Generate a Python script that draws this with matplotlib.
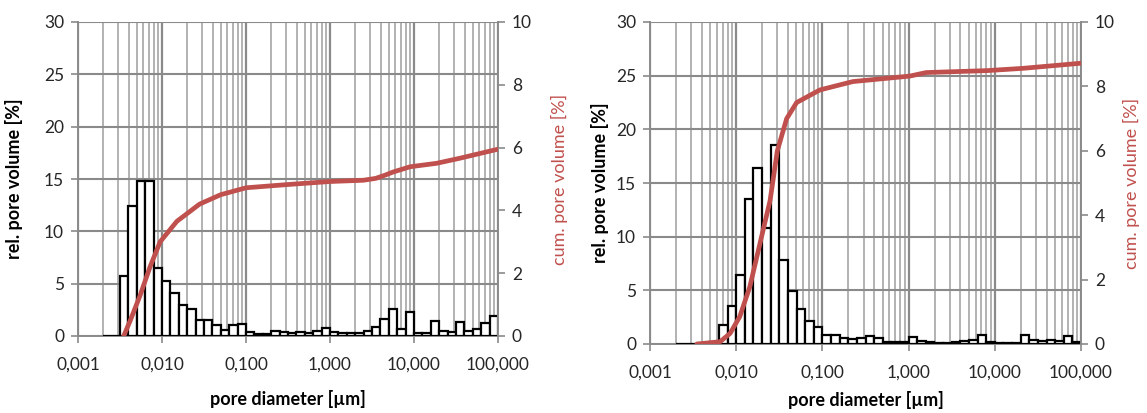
import numpy as np
import matplotlib
matplotlib.use("Agg")
import matplotlib.pyplot as plt
from matplotlib.ticker import FixedLocator, FuncFormatter, NullFormatter, LogLocator

plt.rcParams['font.family'] = ['Lato', 'DejaVu Sans']

# ---------------- data ----------------
# pore-size classes: 10 per decade, from 0.002 to 100 µm
class_edges_um = np.logspace(-2.7, 2.0, 48)

rel_left = [0, 0, 5.7, 12.4, 14.8, 14.8, 6.5, 5.3, 4.1, 3.0, 2.6, 1.5,
            1.5, 1.05, 0.6, 1.05, 1.15, 0.4, 0.2, 0.2, 0.5, 0.4,
            0.25, 0.4, 0.25, 0.45, 0.73, 0.4, 0.25, 0.25, 0.25, 0.5,
            0.9, 1.6, 2.6, 0.64, 2.33, 0.25, 0.32, 1.46, 0.5, 0.4,
            1.3, 0.5, 0.63, 1.27, 1.9]

rel_right = [0, 0, 0, 0, 0.2, 1.77, 3.57, 6.4, 13.5, 16.4, 10.8, 18.5,
             7.8, 4.9, 3.3, 2.1, 1.55, 0.84, 0.84, 0.53, 0.43, 0.53,
             0.78, 0.53, 0.22, 0.22, 0.22, 0.68, 0.3, 0.15, 0.12, 0.12,
             0.2, 0.3, 0.37, 0.84, 0.22, 0.12, 0.12, 0.12, 0.84, 0.37,
             0.3, 0.37, 0.3, 0.78, 0.15]

cum_left_d = [0.0035, 0.0042, 0.0055, 0.0072, 0.0095, 0.015, 0.028, 0.05,
              0.1, 0.3, 1.0, 2.5, 3.5, 4.5, 5.6, 7.0, 9.0, 18.6, 35.0, 100.0]
cum_left_v = [0.0, 0.5, 1.3, 2.2, 3.0, 3.65, 4.2, 4.5,
              4.72, 4.82, 4.92, 4.96, 5.02, 5.12, 5.22, 5.3, 5.39, 5.5, 5.66, 5.95]

cum_right_d = [0.0035, 0.0065, 0.0085, 0.011, 0.0144, 0.0189, 0.0247, 0.030,
               0.0385, 0.0503, 0.0935, 0.226, 1.03, 1.6, 8.1, 21.0, 100.0]
cum_right_v = [0.0, 0.07, 0.33, 0.85, 1.78, 3.13, 4.45, 6.0,
               7.0, 7.5, 7.89, 8.15, 8.32, 8.43, 8.49, 8.56, 8.72]

x_ticks = [0.001, 0.01, 0.1, 1, 10, 100]
rel_ticks = [0, 5, 10, 15, 20, 25, 30]
cum_ticks = [0, 2, 4, 6, 8, 10]

RED = '#c0504d'
GRID_MAJ = '#8a8a8a'
GRID_MIN = '#adadad'
AXIS = '#8a8a8a'
TXT = '#262626'

W, H = 1147, 413
fig = plt.figure(figsize=(W / 100, H / 100), dpi=100)


def add_axes(l, t, r, b):
    return fig.add_axes([l / W, 1 - b / H, (r - l) / W, (b - t) / H])


def fmt(v, pos):
    return f"{v:.3f}".replace('.', ',')


panels = [
    (add_axes(78, 22, 498, 336), rel_left, cum_left_d, cum_left_v, 15, 14, 12),
    (add_axes(650, 22, 1081, 344), rel_right, cum_right_d, cum_right_v, 5, 6, 7),
]

for ax, rel, cd, cv, lpad, rpad, xpad in panels:
    ax.set_xscale('log')
    edges = class_edges_um
    ax.bar(edges[:-1], rel, width=edges[1:] - edges[:-1], align='edge',
           facecolor='white', edgecolor='black', linewidth=1.6, zorder=3)
    ax.set_xlim(0.001, 100)
    ax.set_ylim(0, 30)
    ax.xaxis.set_major_locator(FixedLocator(x_ticks))
    ax.xaxis.set_major_formatter(FuncFormatter(fmt))
    ax.xaxis.set_minor_locator(LogLocator(base=10, subs=np.arange(2, 10), numticks=20))
    ax.xaxis.set_minor_formatter(NullFormatter())
    ax.set_yticks(rel_ticks)
    ax.set_axisbelow(True)
    ax.grid(which='major', axis='x', color=GRID_MAJ, lw=1.6)
    ax.grid(which='minor', axis='x', color=GRID_MIN, lw=1.3)
    ax.grid(which='major', axis='y', color=GRID_MAJ, lw=1.5)
    for s in ('top', 'right'):
        ax.spines[s].set_visible(False)
    for s in ('left', 'bottom'):
        ax.spines[s].set_color(AXIS)
        ax.spines[s].set_linewidth(1.4)
    ax.tick_params(axis='x', which='major', length=5, width=1.2, color=AXIS,
                   labelsize=12.5, pad=10, labelcolor=TXT)
    ax.tick_params(axis='x', which='minor', length=0)
    ax.tick_params(axis='y', length=5, width=1.2, color=AXIS,
                   labelsize=12.5, pad=5, labelcolor=TXT)
    ax.set_xlabel('pore diameter [µm]', fontsize=13, fontweight='bold', labelpad=xpad)
    ax.set_ylabel('rel. pore volume [%]', fontsize=13, fontweight='bold', labelpad=lpad)

    axr = ax.twinx()
    axr.plot(cd, cv, color=RED, lw=3.4, solid_capstyle='round', zorder=5)
    axr.set_ylim(0, 10)
    axr.set_yticks(cum_ticks)
    for s in ('top', 'left', 'bottom'):
        axr.spines[s].set_visible(False)
    axr.spines['right'].set_color(AXIS)
    axr.spines['right'].set_linewidth(1.4)
    axr.tick_params(axis='y', length=5, width=1.2, color=AXIS,
                    labelsize=12.5, pad=5, labelcolor=TXT)
    axr.set_ylabel('cum. pore volume [%]', fontsize=13, color=RED, labelpad=rpad)

fig.savefig('out.png', dpi=100)
